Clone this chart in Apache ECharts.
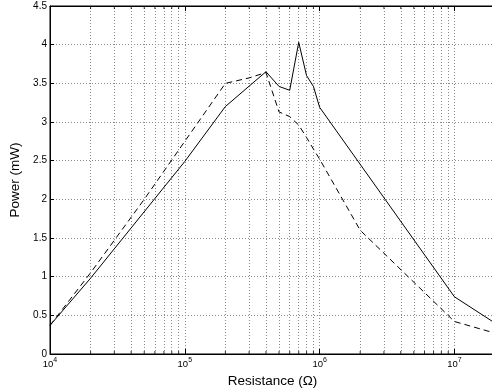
<!DOCTYPE html>
<html>
<head>
<meta charset="utf-8">
<script src="https://cdn.jsdelivr.net/npm/echarts@6/dist/echarts.min.js"></script>
<style>html,body{margin:0;padding:0;background:#fff}#c{width:492px;height:389px}</style>
</head>
<body>
<div id="c"></div>
<script>
// Solid curve
const solidR = [1e4, 2e4, 1e5, 2e5, 4e5, 5e5, 6e5, 7e5, 8e5, 9e5, 1e6, 1e7, 2e7];
const solidP = [0.37, 0.98, 2.49, 3.20, 3.65, 3.46, 3.41, 4.03, 3.60, 3.46, 3.19, 0.74, 0.40];
// Dashed curve
const dashR = [1e4, 2e4, 5e4, 1e5, 2e5, 3e5, 4e5, 5e5, 6e5, 7e5, 8e5, 9e5, 1e6, 2e6, 1e7, 2e7];
const dashP = [0.37, 1.05, 2.00, 2.75, 3.50, 3.57, 3.64, 3.13, 3.07, 2.96, 2.80, 2.65, 2.52, 1.60, 0.42, 0.27];
// Minor log grid positions (2..9 per decade)
const minorGrid = [];
[1e4, 1e5, 1e6, 1e7].forEach(d => { for (let k = 2; k <= 9; k++) { if (k * d <= 2e7) minorGrid.push(k * d); } });

const FONT = 'Liberation Sans, Arial, Helvetica, sans-serif';
const gridDot = { color: '#8a8a8a', width: 1, type: [1, 2] };

const chart = echarts.init(document.getElementById('c'), null, { renderer: 'canvas' });
chart.setOption({
  animation: false,
  backgroundColor: '#fff',
  grid: { left: 50, top: 6, right: -3, bottom: 35, containLabel: false, outerBoundsMode: 'none',
          show: true, borderColor: '#000', borderWidth: 1, backgroundColor: 'transparent' },
  xAxis: [{
    type: 'log', logBase: 10, min: 1e4, max: 2e7,
    name: 'Resistance (Ω)', nameLocation: 'middle', nameGap: 18,
    nameTextStyle: { fontFamily: FONT, fontSize: 13.5, color: '#000' },
    axisLine: { lineStyle: { color: '#000', width: 1 } },
    axisTick: { inside: true, length: 5, lineStyle: { color: '#000' } },
    splitLine: { show: true, lineStyle: gridDot },
    axisLabel: {
      margin: 3, showMaxLabel: false, hideOverlap: false,
      formatter: v => (Math.abs(Math.log10(v) - Math.round(Math.log10(v))) < 1e-6) ? '{b|10}{s|' + Math.round(Math.log10(v)) + '}' : '',
      rich: {
        b: { fontFamily: FONT, fontSize: 9.5, color: '#000', lineHeight: 14, verticalAlign: 'middle' },
        s: { fontFamily: FONT, fontSize: 7, color: '#000', lineHeight: 5, verticalAlign: 'top' }
      }
    }
  }, {
    type: 'log', logBase: 10, min: 1e4, max: 2e7, position: 'top',
    axisLine: { lineStyle: { color: '#000', width: 1 } },
    axisTick: { inside: true, length: 5, lineStyle: { color: '#000' } },
    axisLabel: { show: false }, splitLine: { show: false }
  }],
  yAxis: {
    type: 'value', min: 0, max: 4.5, interval: 0.5,
    name: 'Power (mW)', nameLocation: 'middle', nameGap: 14,
    nameTextStyle: { fontFamily: FONT, fontSize: 13.5, color: '#000' },
    axisLine: { show: true, lineStyle: { color: '#000', width: 1 } },
    axisTick: { inside: true, length: 4, lineStyle: { color: '#000' } },
    splitLine: { show: true, lineStyle: gridDot },
    axisLabel: { fontFamily: FONT, fontSize: 10, color: '#000', margin: 3 }
  },
  series: [
    {
      type: 'line', silent: true, data: [], symbol: 'none',
      markLine: {
        silent: true, symbol: 'none', label: { show: false },
        lineStyle: gridDot, animation: false,
        data: minorGrid.map(v => ({ xAxis: v }))
      }
    },
    {
      type: 'scatter', silent: true, symbol: 'rect', symbolSize: [1, 3], symbolOffset: [0, -1.5],
      itemStyle: { color: '#000' }, data: minorGrid.map(v => [v, 0]), z: 5
    },
    {
      type: 'scatter', silent: true, symbol: 'rect', symbolSize: [1, 3], symbolOffset: [0, 1.5],
      itemStyle: { color: '#000' }, data: minorGrid.map(v => [v, 4.5]), z: 5
    },
    {
      type: 'line', name: 'solid', symbol: 'none', silent: true,
      lineStyle: { color: '#000', width: 1, type: 'solid' },
      data: solidR.map((r, i) => [r, solidP[i]]), z: 10
    },
    {
      type: 'line', name: 'dashed', symbol: 'none', silent: true,
      lineStyle: { color: '#000', width: 1, type: [6, 4] },
      data: dashR.map((r, i) => [r, dashP[i]]), z: 10
    }
  ]
});
</script>
</body>
</html>
